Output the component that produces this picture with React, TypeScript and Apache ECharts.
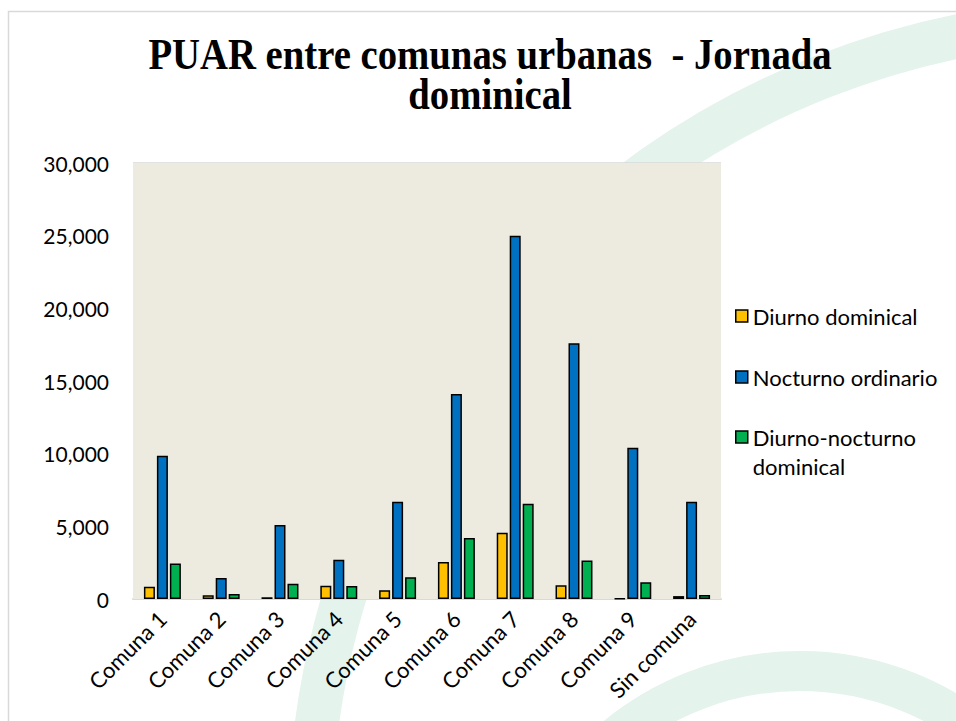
import React, { useEffect, useRef } from "react";
import * as echarts from "echarts";

const categories = [
  "Comuna 1",
  "Comuna 2",
  "Comuna 3",
  "Comuna 4",
  "Comuna 5",
  "Comuna 6",
  "Comuna 7",
  "Comuna 8",
  "Comuna 9",
  "Sin comuna",
];
const diurnoDominical = [850, 250, 120, 920, 600, 2550, 4550, 950, 30, 200];
const nocturnoOrdinario = [9850, 1450, 5100, 2700, 6700, 14100, 25000, 17600, 10400, 6700];
const diurnoNocturnoDominical = [2450, 350, 1050, 900, 1500, 4200, 6550, 2650, 1150, 280];
const seriesNames = ["Diurno dominical", "Nocturno ordinario", "Diurno-nocturno dominical"];
const seriesColors = ["#FFC000", "#0070C0", "#00B050"];
const titleText = "PUAR entre comunas urbanas  - Jornada\ndominical";

const FONT = "Lato";
const SWOOSH = "#E4F3EC";

export default function App() {
  const ref = useRef<HTMLDivElement>(null);
  useEffect(() => {
    if (!ref.current) return;
    const chart = echarts.init(ref.current, null, { renderer: "svg" });
    const values = [diurnoDominical, nocturnoOrdinario, diurnoNocturnoDominical];
    const legendText = {
      color: "#000",
      fontFamily: FONT,
      fontSize: 22,
      lineHeight: 29,
    };
    const legendBase = {
      left: 735,
      padding: 0,
      itemWidth: 12,
      itemHeight: 12,
      icon: "rect",
      itemStyle: { borderColor: "#000", borderWidth: 1.5 },
      textStyle: legendText,
    };
    chart.setOption({
      animation: false,
      backgroundColor: "#FFFFFF",
      graphic: [
        {
          type: "arc",
          z: -100,
          silent: true,
          shape: { cx: 1120, cy: 830, r: 810, startAngle: Math.PI, endAngle: Math.PI * 1.5 },
          style: { stroke: SWOOSH, lineWidth: 44, fill: "none" },
        },
        {
          type: "arc",
          z: -100,
          silent: true,
          shape: { cx: 800, cy: 961, r: 290, startAngle: Math.PI, endAngle: Math.PI * 2 },
          style: { stroke: SWOOSH, lineWidth: 40, fill: "none" },
        },
        {
          type: "rect",
          z: -90,
          silent: true,
          shape: { x: 8.5, y: 11.5, width: 1000, height: 800 },
          style: { stroke: "#D9D9D9", lineWidth: 1.5, fill: "none" },
        },
        {
          type: "text",
          x: 490,
          y: 34,
          scaleX: 0.88,
          style: {
            text: titleText,
            align: "center",
            verticalAlign: "top",
            fontFamily: "Liberation Serif",
            fontWeight: "bold",
            fontSize: 44,
            lineHeight: 40,
            fill: "#000",
          },
        },
      ],
      grid: {
        left: 133,
        right: 235,
        top: 163,
        bottom: 122,
        show: true,
        backgroundColor: "#EDEBE0",
        borderWidth: 0,
        z: 2,
      },
      legend: [
        { ...legendBase, data: [seriesNames[0]], top: 316 - 6 - 8.5 },
        { ...legendBase, data: [seriesNames[1]], top: 377 - 6 - 8.5 },
        {
          ...legendBase,
          data: [seriesNames[2]],
          top: 437 - 43.5,
          formatter: () => "\nDiurno-nocturno\ndominical",
        },
      ],
      xAxis: {
        type: "category",
        data: categories,
        axisLine: { show: true, lineStyle: { color: "#D9D9D9", width: 2 } },
        axisTick: { show: false },
        axisLabel: {
          rotate: 45,
          interval: 0,
          margin: 16,
          color: "#000",
          fontFamily: FONT,
          fontSize: 22,
        },
      },
      yAxis: {
        type: "value",
        min: 0,
        max: 30000,
        interval: 5000,
        axisLine: { show: false },
        axisTick: { show: false },
        splitLine: { lineStyle: { color: "#D9D9D9", width: 1.5 } },
        axisLabel: {
          margin: 24,
          color: "#000",
          fontFamily: FONT,
          fontSize: 21,
          formatter: (v: number) => v.toLocaleString("en-US"),
        },
      },
      series: values.map((data, i) => ({
        name: seriesNames[i],
        type: "bar",
        data,
        barWidth: 11,
        barGap: "18%",
        itemStyle: { color: seriesColors[i], borderColor: "#000", borderWidth: 1.5 },
      })),
    });
    return () => chart.dispose();
  }, []);
  return (
    <div
      ref={ref}
      style={{ position: "fixed", left: 0, top: 0, width: 956, height: 721 }}
    />
  );
}
